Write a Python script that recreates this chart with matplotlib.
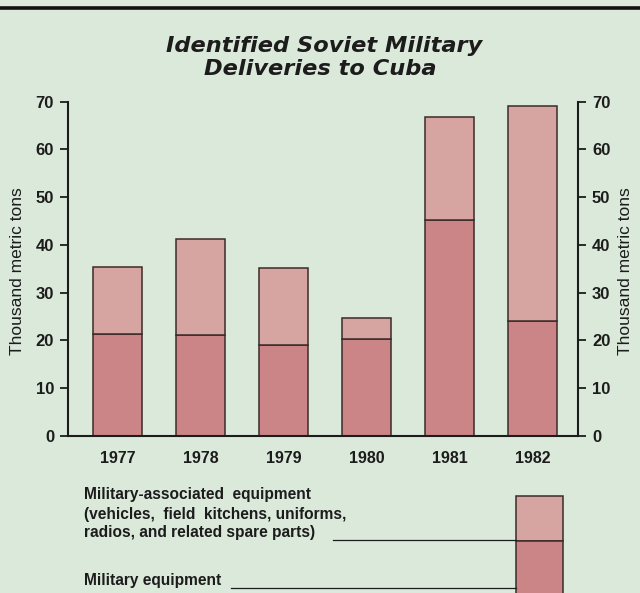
import matplotlib
matplotlib.use("Agg")
import matplotlib.pyplot as plt
from matplotlib.patches import Rectangle
from matplotlib.lines import Line2D

years = ["1977", "1978", "1979", "1980", "1981", "1982"]
military_equipment = [21.3, 21.1, 19.0, 20.4, 45.2, 24.1]
military_associated = [14.1, 20.1, 16.1, 4.4, 21.5, 44.9]
yticks = [0, 10, 20, 30, 40, 50, 60, 70]

FONT = "Liberation Sans"
BG = "#dbe9da"
LIGHT = "#d6a5a1"
DARK = "#cc8586"
EDGE = "#3b2b2b"
INK = "#1c1c1c"

fig = plt.figure(figsize=(6.4, 5.93), dpi=100, facecolor=BG)
ax = fig.add_axes([68 / 640, 1 - 436 / 593, (578 - 68) / 640, (436 - 101.7) / 593])
ax.set_facecolor(BG)

x = list(range(len(years)))
ax.bar(x, military_equipment, width=0.59, color=DARK, edgecolor=EDGE, linewidth=1.1, zorder=2)
ax.bar(x, military_associated, bottom=military_equipment, width=0.59, color=LIGHT,
       edgecolor=EDGE, linewidth=1.1, zorder=2)

ax.set_xlim(-0.6, 5.55)
ax.set_ylim(0, 70)
ax.set_yticks(yticks)
ax.set_xticks(x)
ax.set_xticklabels(years, fontfamily=FONT, fontsize=11.5, fontweight="bold", color=INK)
ax.tick_params(axis="x", length=0, pad=11)
ax.tick_params(axis="y", direction="out", length=6, width=1.3, color=INK, pad=4,
               left=True, right=True, labelleft=True, labelright=True,
               labelsize=12, labelcolor=INK)
for t in ax.yaxis.get_major_ticks():
    for lab in (t.label1, t.label2):
        lab.set_fontfamily(FONT)
        lab.set_fontweight("bold")
ax.spines["top"].set_visible(False)
for s in ["left", "right", "bottom"]:
    ax.spines[s].set_color(INK)
    ax.spines[s].set_linewidth(1.5)

ylab = dict(fontfamily=FONT, fontsize=12.5, color=INK, ha="center", va="center", rotation=90)
fig.text(18 / 640, 1 - 271 / 593, "Thousand metric tons", **ylab)
fig.text(626 / 640, 1 - 271 / 593, "Thousand metric tons", **ylab)

# top rule
fig.add_artist(Line2D([0, 1], [1 - 7.5 / 593, 1 - 7.5 / 593], color="#111111", lw=2.6))

# title
tt = dict(ha="center", va="center", fontfamily="DejaVu Sans", fontsize=16.2,
          fontweight="bold", style="italic", color=INK)
fig.text(0.5 + 4 / 640, 1 - 46 / 593, "Identified Soviet Military", **tt)
fig.text(0.5, 1 - 69 / 593, "Deliveries to Cuba", **tt)

# legend text
lt = dict(fontfamily=FONT, fontsize=11.2, fontweight="bold", color=INK, ha="left", va="center")
fig.text(84 / 640, 1 - 495 / 593, "Military-associated  equipment", **lt)
fig.text(84 / 640, 1 - 514 / 593, "(vehicles,  field  kitchens, uniforms,", **lt)
fig.text(84 / 640, 1 - 533 / 593, "radios, and related spare parts)", **lt)
fig.text(84 / 640, 1 - 580 / 593, "Military equipment", **lt)

# leader lines
fig.add_artist(Line2D([333 / 640, 516 / 640], [1 - 540 / 593, 1 - 540 / 593], color=INK, lw=0.9))
fig.add_artist(Line2D([231 / 640, 516 / 640], [1 - 588 / 593, 1 - 588 / 593], color=INK, lw=0.9))

# legend swatch
fig.add_artist(Rectangle((516 / 640, 1 - 541 / 593), 47 / 640, 45 / 593,
                         transform=fig.transFigure, facecolor=LIGHT, edgecolor=EDGE, lw=1.1))
fig.add_artist(Rectangle((516 / 640, 1 - 600 / 593), 47 / 640, 59 / 593,
                         transform=fig.transFigure, facecolor=DARK, edgecolor=EDGE, lw=1.1))

fig.savefig("out.png", dpi=100, facecolor=BG)
